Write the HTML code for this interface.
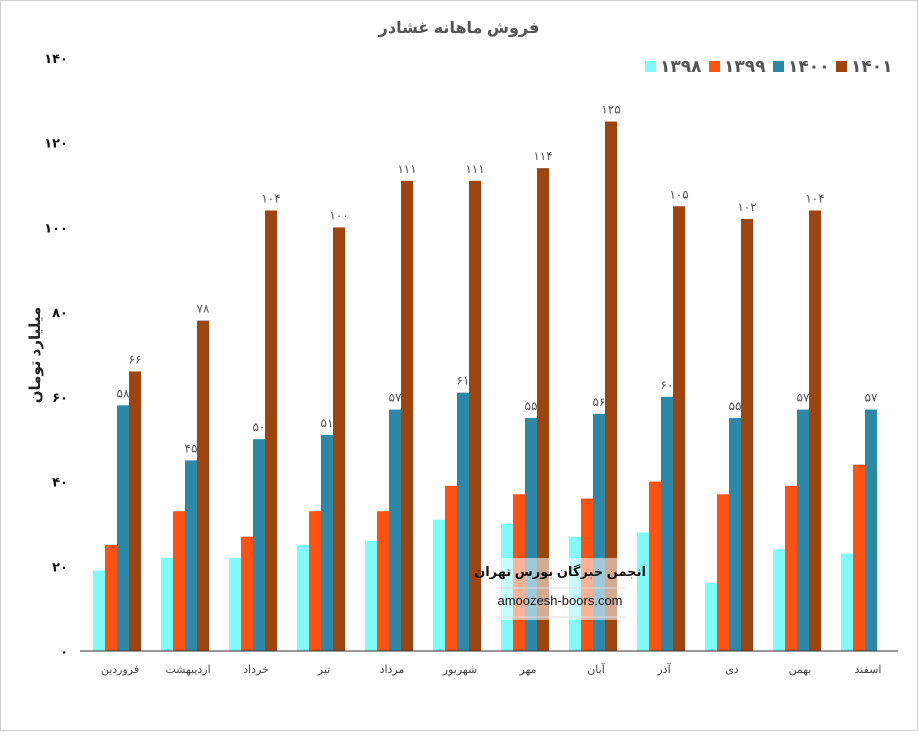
<!DOCTYPE html>
<html><head><meta charset="utf-8"><style>
body{margin:0;background:#fff}
svg text{font-family:"Liberation Sans","DejaVu Sans","Noto Sans CJK SC",sans-serif}
</style></head><body>
<svg id="chart" width="918" height="731" xmlns="http://www.w3.org/2000/svg">
<rect x="0.5" y="0.5" width="917" height="730" fill="#fff" stroke="#d0d0d0"/>
<text x="459" y="33" text-anchor="middle" font-size="16" font-weight="bold" fill="#555">فروش ماهانه غشادر</text>
<text transform="translate(40,355) rotate(-90)" text-anchor="middle" font-size="15" font-weight="bold" fill="#222">میلیارد تومان</text>
<g id="yaxis"></g><g id="bars"></g><g id="xaxis"></g><g id="legend"></g>
<g>
<rect x="490" y="558" width="140" height="62" fill="#fff" opacity="0.55"/>
<text x="560" y="576" text-anchor="middle" font-size="13" font-weight="bold" fill="#111">انجمن خبرگان بورس تهران</text>
<line x1="495" y1="588" x2="625" y2="588" stroke="#ddd"/>
<text x="560" y="605" text-anchor="middle" font-size="13" fill="#111" font-family="Liberation Serif">amoozesh-boors.com</text>
<line x1="495" y1="617" x2="625" y2="617" stroke="#ddd"/>
</g>
</svg>
<script>
const categories=["فروردین","اردیبهشت","خرداد","تیر","مرداد","شهریور","مهر","آبان","آذر","دی","بهمن","اسفند"];
const seriesNames=["1398","1399","1400","1401"];
const s1398=[19,22,22,25,26,31,30,27,28,16,24,23];
const s1399=[25,33,27,33,33,39,37,36,40,37,39,44];
const s1400=[58,45,50,51,57,61,55,56,60,55,57,57];
const s1401=[66,78,104,100,111,111,114,125,105,102,104,null];
const yTicks=[0,20,40,60,80,100,120,140];
const colors=["#80f9f9","#fd5214","#2c88a6","#9e450f"];
const labeled=[false,false,true,true];
const NS="http://www.w3.org/2000/svg";
const fa=n=>String(n).replace(/\d/g,d=>"۰۱۲۳۴۵۶۷۸۹"[d]);
const y0=651,pxPer=593/140,left=83,band=68,bw=12;
const yS=v=>y0-v*pxPer;
const xS=i=>left+band*i+band/2;
function mk(tag,attrs,parent){const e=document.createElementNS(NS,tag);for(const k in attrs)e.setAttribute(k,attrs[k]);parent.appendChild(e);return e;}
const ya=document.getElementById('yaxis'),bg=document.getElementById('bars'),xa=document.getElementById('xaxis'),lg=document.getElementById('legend');
yTicks.forEach(t=>{const e=mk('text',{x:68,y:yS(t)+5,'text-anchor':'end','font-size':13,'font-weight':'bold',fill:'#111'},ya);


e.textContent=fa(t);});
const bl=mk('line',{x1:80,x2:898,y1:y0,y2:y0,stroke:'#333'},xa);


const all=[s1398,s1399,s1400,s1401];
categories.forEach((c,i)=>{
 const t=mk('text',{x:xS(i)+3,y:673,'text-anchor':'middle','font-size':11,fill:'#444'},xa);
 
 
 t.textContent=c;
 all.forEach((s,k)=>{const v=s[i];if(v==null)return;
  const x=xS(i)-24+k*bw;
  const r=mk('rect',{x:x,y:yS(v),width:bw,height:v*pxPer,fill:colors[k]},bg);
  
  
  if(labeled[k]){const l=mk('text',{x:x+bw/2,y:yS(v)-8,'text-anchor':'middle','font-size':12,fill:'#555'},bg);
   
   
   l.textContent=fa(v);}
 });
});
const lx=[645,709,773,836];
seriesNames.forEach((n,k)=>{
 const r=mk('rect',{x:lx[k],y:61,width:11,height:11,fill:colors[k]},lg);
 
 
 const t=mk('text',{x:lx[k]+15,y:72,'font-size':17,'font-weight':'bold',fill:'#555'},lg);
 
 
 t.textContent=fa(n);
});
</script>
</body></html>
